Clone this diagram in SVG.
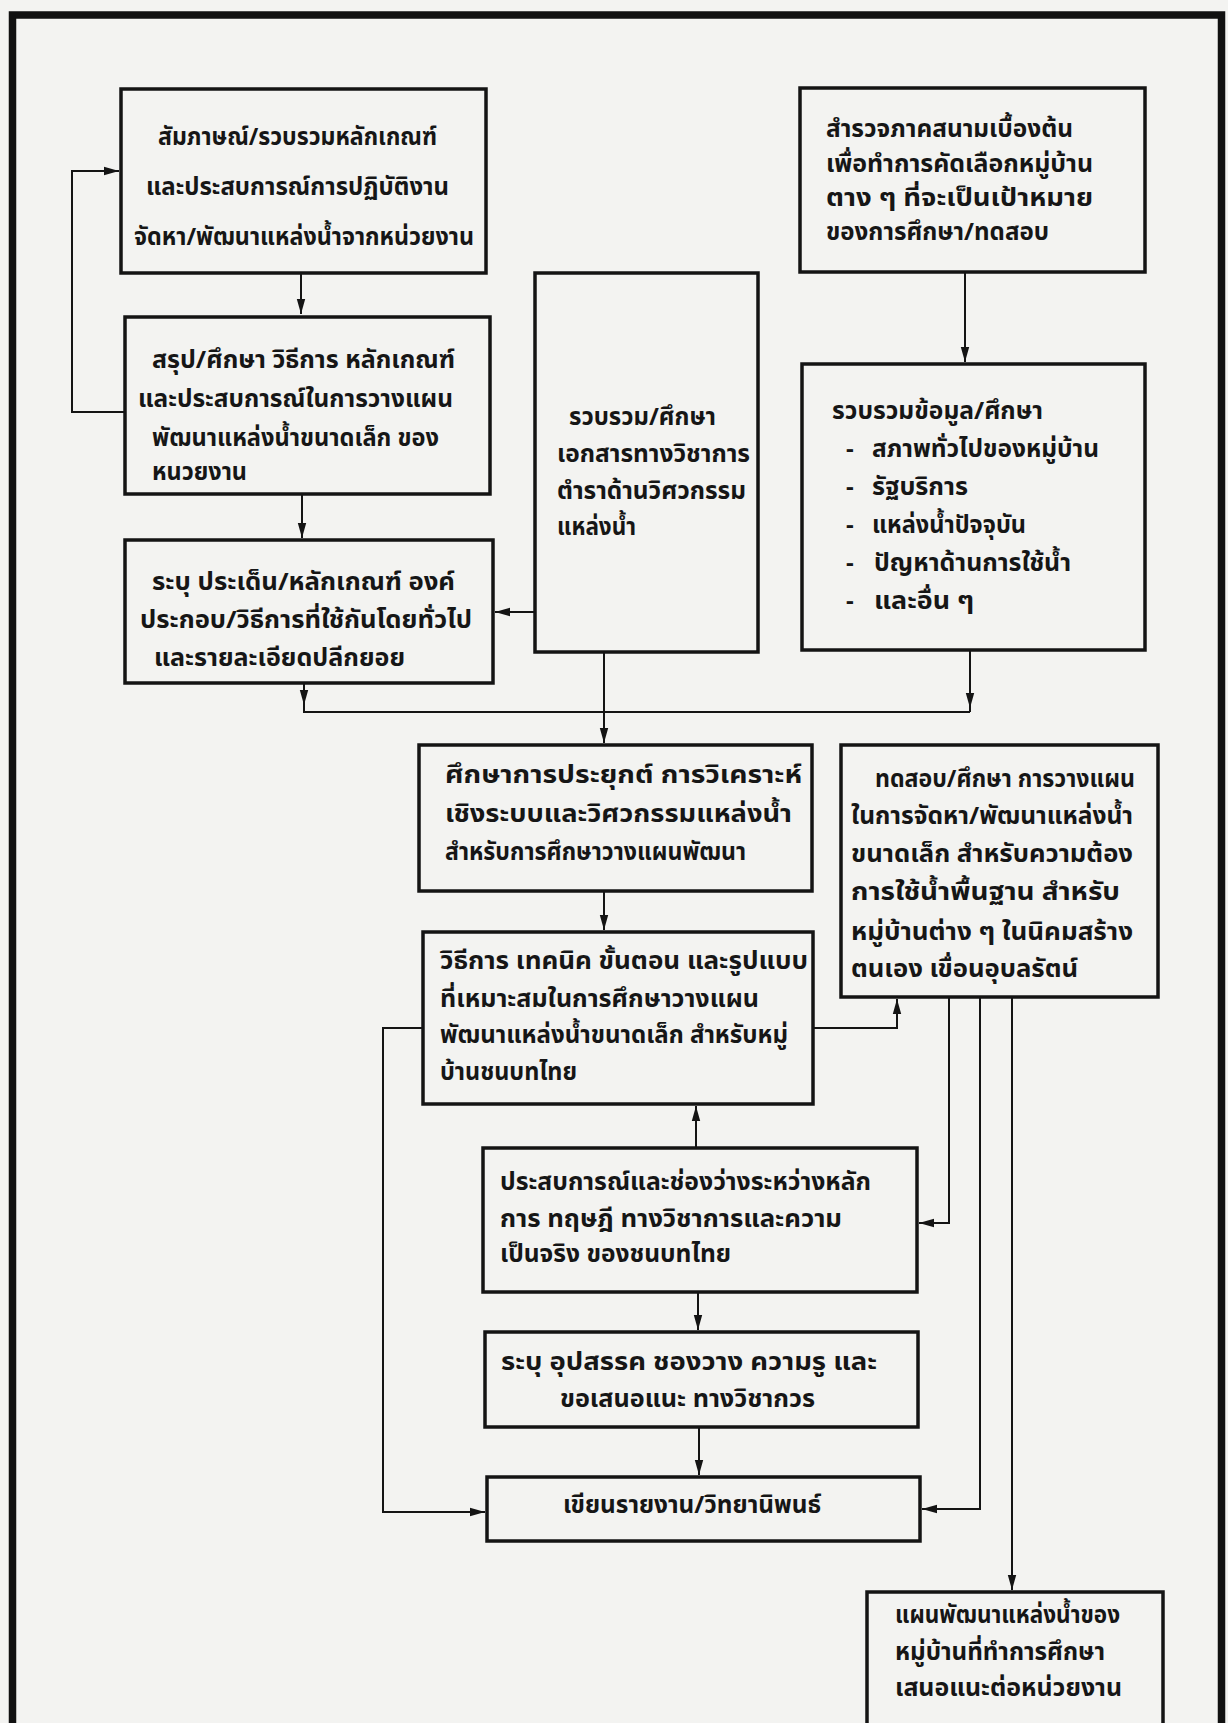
<svg xmlns="http://www.w3.org/2000/svg" width="1228" height="1723" viewBox="0 0 1228 1723">
<defs>
<style>
.bx{fill:none;stroke:#141414;stroke-width:3.5}
.ln{fill:none;stroke:#141414;stroke-width:2}
.t{font-family:"Tlwg Typist","Noto Sans Thai","Loma","Garuda","Noto Sans","DejaVu Sans",sans-serif;font-size:24px;font-weight:bold;fill:#161616}
</style>
<marker id="ah" markerUnits="userSpaceOnUse" markerWidth="16" markerHeight="10" refX="15" refY="5" orient="auto">
<path d="M0,0.8 L15,5 L0,9.2 Z" fill="#141414"/>
</marker>
</defs>
<rect width="1228" height="1723" fill="#f3f3f1"/>
<path d="M12.5,1723 V15 H1221.5 V1723" fill="none" stroke="#111" stroke-width="7.5"/>

<g id="connectors">
<path class="ln" d="M125,412 H72 V171 H119" marker-end="url(#ah)"/>
<path class="ln" d="M301,273 V314" marker-end="url(#ah)"/>
<path class="ln" d="M302,494 V538" marker-end="url(#ah)"/>
<path class="ln" d="M535,612 H495" marker-end="url(#ah)"/>
<path class="ln" d="M304,683 V712 H970"/>
<path class="ln" d="M304,684 V705" marker-end="url(#ah)"/>
<path class="ln" d="M970,650 V712"/>
<path class="ln" d="M970,650 V708" marker-end="url(#ah)"/>
<path class="ln" d="M604,652 V743" marker-end="url(#ah)"/>
<path class="ln" d="M965,272 V362" marker-end="url(#ah)"/>
<path class="ln" d="M604,891 V930" marker-end="url(#ah)"/>
<path class="ln" d="M813,1028 H897 V999" marker-end="url(#ah)"/>
<path class="ln" d="M423,1028 H383 V1512 H485" marker-end="url(#ah)"/>
<path class="ln" d="M696,1148 V1106" marker-end="url(#ah)"/>
<path class="ln" d="M698,1292 V1330" marker-end="url(#ah)"/>
<path class="ln" d="M699,1427 V1475" marker-end="url(#ah)"/>
<path class="ln" d="M949,997 V1223 H919" marker-end="url(#ah)"/>
<path class="ln" d="M980,997 V1509 H922" marker-end="url(#ah)"/>
<path class="ln" d="M1012,997 V1590" marker-end="url(#ah)"/>
</g>

<g id="nA">
<rect class="bx" x="121" y="89" width="365" height="184"/>
<text class="t" x="158" y="145" textLength="279" lengthAdjust="spacingAndGlyphs">สัมภาษณ์/รวบรวมหลักเกณฑ์</text>
<text class="t" x="146" y="195" textLength="303" lengthAdjust="spacingAndGlyphs">และประสบการณ์การปฏิบัติงาน</text>
<text class="t" x="134" y="245" textLength="340" lengthAdjust="spacingAndGlyphs">จัดหา/พัฒนาแหล่งน้ำจากหน่วยงาน</text>
</g>
<g id="nB">
<rect class="bx" x="125" y="317" width="365" height="177"/>
<text class="t" x="152" y="368" textLength="303" lengthAdjust="spacingAndGlyphs">สรุป/ศึกษา วิธีการ หลักเกณฑ์</text>
<text class="t" x="138" y="407" textLength="315" lengthAdjust="spacingAndGlyphs">และประสบการณ์ในการวางแผน</text>
<text class="t" x="152" y="446" textLength="287" lengthAdjust="spacingAndGlyphs">พัฒนาแหล่งน้ำขนาดเล็ก ของ</text>
<text class="t" x="152" y="480" textLength="95" lengthAdjust="spacingAndGlyphs">หนวยงาน</text>
</g>
<g id="nC">
<rect class="bx" x="125" y="540" width="368" height="143"/>
<text class="t" x="152" y="590" textLength="303" lengthAdjust="spacingAndGlyphs">ระบุ ประเด็น/หลักเกณฑ์ องค์</text>
<text class="t" x="140" y="628" textLength="332" lengthAdjust="spacingAndGlyphs">ประกอบ/วิธีการที่ใช้กันโดยทั่วไป</text>
<text class="t" x="154" y="666" textLength="251" lengthAdjust="spacingAndGlyphs">และรายละเอียดปลีกยอย</text>
</g>
<g id="nD">
<rect class="bx" x="535" y="273" width="223" height="379"/>
<text class="t" x="569" y="425" textLength="147" lengthAdjust="spacingAndGlyphs">รวบรวม/ศึกษา</text>
<text class="t" x="557" y="462" textLength="193" lengthAdjust="spacingAndGlyphs">เอกสารทางวิชาการ</text>
<text class="t" x="557" y="499" textLength="189" lengthAdjust="spacingAndGlyphs">ตำราด้านวิศวกรรม</text>
<text class="t" x="557" y="535" textLength="79" lengthAdjust="spacingAndGlyphs">แหล่งน้ำ</text>
</g>
<g id="nE">
<rect class="bx" x="800" y="88" width="345" height="184"/>
<text class="t" x="826" y="137" textLength="247" lengthAdjust="spacingAndGlyphs">สำรวจภาคสนามเบื้องต้น</text>
<text class="t" x="826" y="172" textLength="267" lengthAdjust="spacingAndGlyphs">เพื่อทำการคัดเลือกหมู่บ้าน</text>
<text class="t" x="826" y="206" textLength="267" lengthAdjust="spacingAndGlyphs">ตาง ๆ ที่จะเป็นเป้าหมาย</text>
<text class="t" x="826" y="240" textLength="223" lengthAdjust="spacingAndGlyphs">ของการศึกษา/ทดสอบ</text>
</g>
<g id="nE2">
<rect class="bx" x="802" y="364" width="343" height="286"/>
<text class="t" x="832" y="419" textLength="211" lengthAdjust="spacingAndGlyphs">รวบรวมข้อมูล/ศึกษา</text>
<text class="t" x="846" y="457">-</text>
<text class="t" x="872" y="457" textLength="227" lengthAdjust="spacingAndGlyphs">สภาพทั่วไปของหมู่บ้าน</text>
<text class="t" x="846" y="495">-</text>
<text class="t" x="872" y="495" textLength="96" lengthAdjust="spacingAndGlyphs">รัฐบริการ</text>
<text class="t" x="846" y="533">-</text>
<text class="t" x="872" y="533" textLength="154" lengthAdjust="spacingAndGlyphs">แหล่งน้ำปัจจุบัน</text>
<text class="t" x="846" y="571">-</text>
<text class="t" x="874" y="571" textLength="197" lengthAdjust="spacingAndGlyphs">ปัญหาด้านการใช้น้ำ</text>
<text class="t" x="846" y="609">-</text>
<text class="t" x="874" y="609" textLength="100" lengthAdjust="spacingAndGlyphs">และอื่น ๆ</text>
</g>
<g id="nF">
<rect class="bx" x="419" y="745" width="393" height="146"/>
<text class="t" x="445" y="783" textLength="357" lengthAdjust="spacingAndGlyphs">ศึกษาการประยุกต์ การวิเคราะห์</text>
<text class="t" x="445" y="822" textLength="347" lengthAdjust="spacingAndGlyphs">เชิงระบบและวิศวกรรมแหล่งน้ำ</text>
<text class="t" x="445" y="860" textLength="301" lengthAdjust="spacingAndGlyphs">สำหรับการศึกษาวางแผนพัฒนา</text>
</g>
<g id="nG">
<rect class="bx" x="841" y="745" width="317" height="252"/>
<text class="t" x="875" y="787" textLength="260" lengthAdjust="spacingAndGlyphs">ทดสอบ/ศึกษา การวางแผน</text>
<text class="t" x="851" y="824" textLength="282" lengthAdjust="spacingAndGlyphs">ในการจัดหา/พัฒนาแหล่งน้ำ</text>
<text class="t" x="851" y="862" textLength="282" lengthAdjust="spacingAndGlyphs">ขนาดเล็ก สำหรับความต้อง</text>
<text class="t" x="851" y="900" textLength="269" lengthAdjust="spacingAndGlyphs">การใช้น้ำพื้นฐาน  สำหรับ</text>
<text class="t" x="851" y="940" textLength="282" lengthAdjust="spacingAndGlyphs">หมู่บ้านต่าง ๆ ในนิคมสร้าง</text>
<text class="t" x="851" y="977" textLength="227" lengthAdjust="spacingAndGlyphs">ตนเอง เขื่อนอุบลรัตน์</text>
</g>
<g id="nH">
<rect class="bx" x="423" y="932" width="390" height="172"/>
<text class="t" x="440" y="969" textLength="368" lengthAdjust="spacingAndGlyphs">วิธีการ เทคนิค ขั้นตอน และรูปแบบ</text>
<text class="t" x="440" y="1007" textLength="319" lengthAdjust="spacingAndGlyphs">ที่เหมาะสมในการศึกษาวางแผน</text>
<text class="t" x="440" y="1043" textLength="348" lengthAdjust="spacingAndGlyphs">พัฒนาแหล่งน้ำขนาดเล็ก สำหรับหมู่</text>
<text class="t" x="440" y="1080" textLength="137" lengthAdjust="spacingAndGlyphs">บ้านชนบทไทย</text>
</g>
<g id="nI">
<rect class="bx" x="483" y="1148" width="434" height="144"/>
<text class="t" x="500" y="1190" textLength="371" lengthAdjust="spacingAndGlyphs">ประสบการณ์และช่องว่างระหว่างหลัก</text>
<text class="t" x="500" y="1227" textLength="342" lengthAdjust="spacingAndGlyphs">การ ทฤษฎี ทางวิชาการและความ</text>
<text class="t" x="500" y="1262" textLength="231" lengthAdjust="spacingAndGlyphs">เป็นจริง ของชนบทไทย</text>
</g>
<g id="nJ">
<rect class="bx" x="485" y="1332" width="433" height="95"/>
<text class="t" x="501" y="1370" textLength="376" lengthAdjust="spacingAndGlyphs">ระบุ อุปสรรค ชองวาง ความรู และ</text>
<text class="t" x="560" y="1407" textLength="255" lengthAdjust="spacingAndGlyphs">ขอเสนอแนะ ทางวิชากวร</text>
</g>
<g id="nK">
<rect class="bx" x="487" y="1477" width="433" height="64"/>
<text class="t" x="563" y="1513" textLength="258" lengthAdjust="spacingAndGlyphs">เขียนรายงาน/วิทยานิพนธ์</text>
</g>
<g id="nL">
<rect class="bx" x="867" y="1592" width="296" height="160"/>
<text class="t" x="895" y="1623" textLength="225" lengthAdjust="spacingAndGlyphs">แผนพัฒนาแหล่งน้ำของ</text>
<text class="t" x="895" y="1660" textLength="210" lengthAdjust="spacingAndGlyphs">หมู่บ้านที่ทำการศึกษา</text>
<text class="t" x="895" y="1696" textLength="227" lengthAdjust="spacingAndGlyphs">เสนอแนะต่อหน่วยงาน</text>
</g>
</svg>
